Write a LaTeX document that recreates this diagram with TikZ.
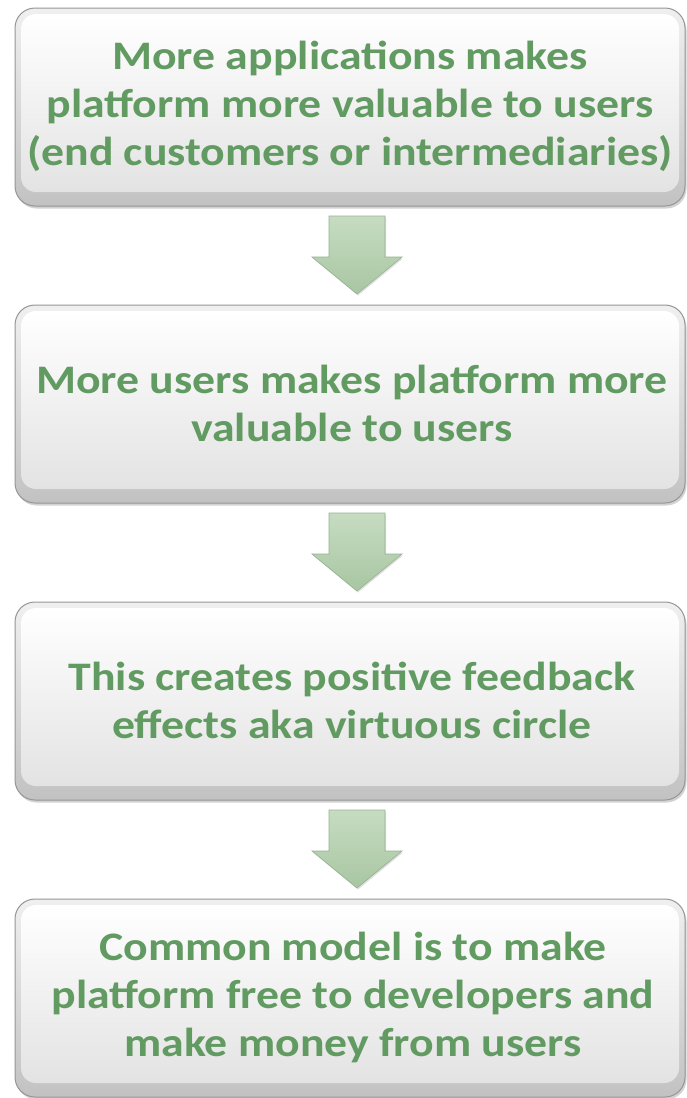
\documentclass[tikz,border=0pt]{standalone}
\usepackage{fontspec}
\setmainfont{Carlito}
\newfontfamily\boxfont[FakeStretch=1.13]{Carlito}
\usetikzlibrary{shadows}
\definecolor{txtgreen}{RGB}{98,155,98}
\definecolor{arrtop}{RGB}{198,220,193}
\definecolor{arrbot}{RGB}{168,198,162}
\definecolor{arrline}{RGB}{150,178,145}
\definecolor{rimline}{RGB}{150,150,150}
\tikzset{
  outerbox/.style={rounded corners=20pt, top color=gray!12, bottom color=gray!48,
    draw=rimline, line width=1pt,
    drop shadow={shadow xshift=1.5pt, shadow yshift=-2.5pt, opacity=0.35}},
  innerbox/.style={rounded corners=15pt, top color=white, bottom color=gray!22, draw=none},
  boxtext/.style={text=txtgreen, align=center, font=\boxfont\bfseries\fontsize{40.5}{48}\selectfont, inner sep=0pt},
  blockarrow/.style={top color=arrtop, bottom color=arrbot, draw=arrline, line width=0.6pt,
    drop shadow={shadow xshift=1pt, shadow yshift=-1.5pt, opacity=0.25}}
}
\begin{document}
\begin{tikzpicture}[x=1pt,y=-1pt]
\useasboundingbox (0,0) rectangle (686,1098);
\fill[white] (0,0) rectangle (686,1098);
% boxes
\foreach \i/\t in {1/8,2/305,3/602,4/899}{
  \path[outerbox] (15,\t) rectangle (685,\t+198);
  \path[innerbox] (21,\t+6) rectangle (679,\t+184);
  \coordinate (b\i n) at (350,\t);
  \coordinate (b\i s) at (350,\t+198);
}
\node[boxtext] (t1) at (350,106) {More applications makes\\platform more valuable to users\\(end customers or intermediaries)};
\node[boxtext] (t2) at (352,403) {More users makes platform more\\valuable to users};
\node[boxtext] (t3) at (352,700) {This creates positive feedback\\effects aka virtuous circle};
\node[boxtext] (t4) at (353,997) {Common model is to make\\platform free to developers and\\make money from users};
% arrows
\foreach \a/\b in {1/2,2/3,3/4}{
  \path (b\a s) ++(0,10) coordinate (a\a top);
  \path (b\b n) ++(0,-11) coordinate (a\a tip);
  \path[blockarrow] ([xshift=-21pt]a\a top) -- ([xshift=35pt]a\a top)
     -- ([xshift=35pt,yshift=37pt]a\a tip) -- ([xshift=52pt,yshift=37pt]a\a tip)
     -- ([xshift=7pt]a\a tip)
     -- ([xshift=-38pt,yshift=37pt]a\a tip) -- ([xshift=-21pt,yshift=37pt]a\a tip) -- cycle;
}
\end{tikzpicture}
\end{document}
